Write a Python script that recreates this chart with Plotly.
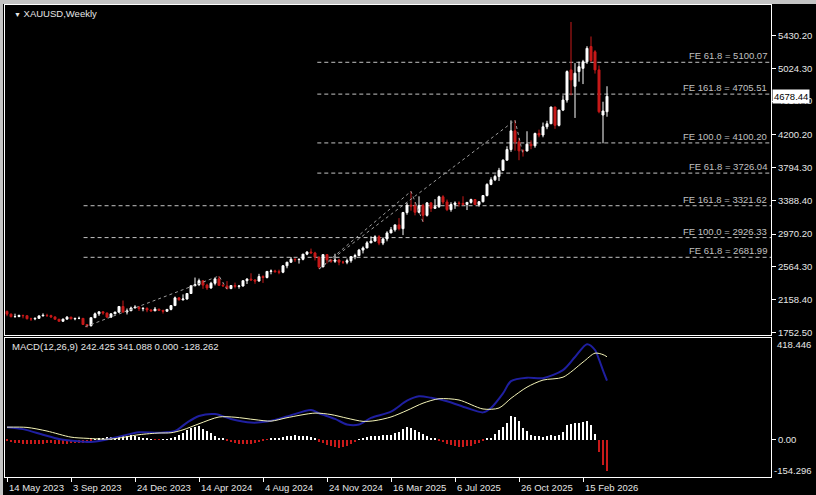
import plotly.graph_objects as go
import pandas as pd

# ---------------- data ----------------
chart_title = "XAUUSD,Weekly"
first_week = "2023-05-14"

opens = [
    2011, 1977, 1946, 1948, 1961, 1958, 1921, 1919, 1925, 1955,
    1962, 1959, 1943, 1914, 1889, 1915, 1940, 1919, 1924, 1925,
    1849, 1833, 1933, 1981, 2006, 1992, 1940, 1981, 2002, 2072,
    2004, 2019, 2053, 2063, 2045, 2049, 2029, 2018, 2039, 2024,
    2013, 2036, 2083, 2179, 2155, 2165, 2233, 2329, 2344, 2392,
    2337, 2302, 2360, 2415, 2334, 2327, 2294, 2332, 2321, 2326,
    2392, 2411, 2400, 2387, 2443, 2431, 2507, 2512, 2503, 2497,
    2577, 2621, 2658, 2653, 2657, 2721, 2747, 2736, 2685, 2563,
    2715, 2650, 2633, 2648, 2622, 2621, 2640, 2690, 2703, 2771,
    2798, 2861, 2883, 2936, 2858, 2910, 2984, 3023, 3084, 3037,
    3237, 3327, 3319, 3240, 3325, 3202, 3357, 3289, 3310, 3432,
    3368, 3273, 3337, 3355, 3350, 3337, 3363, 3398, 3336, 3371,
    3448, 3586, 3643, 3685, 3760, 3886, 4018, 4250, 4113, 4002,
    4000, 4085, 4065, 4218, 4198, 4300, 4338, 4545, 4318, 4507,
    4632, 5006, 4802, 4985, 5025, 5107, 5296, 5230, 5006, 4446,
    4487]

highs = [
    2022, 1985, 1983, 1971, 1971, 1959, 1933, 1935, 1963, 1987,
    1982, 1970, 1948, 1917, 1922, 1953, 1943, 1933, 1947, 1926,
    1853, 1933, 1997, 2009, 2010, 1993, 1988, 2007, 2075, 2146,
    2047, 2070, 2088, 2078, 2062, 2062, 2038, 2065, 2044, 2031,
    2041, 2088, 2195, 2185, 2222, 2236, 2330, 2431, 2418, 2392,
    2354, 2378, 2422, 2450, 2364, 2387, 2336, 2368, 2339, 2392,
    2424, 2484, 2412, 2477, 2459, 2509, 2531, 2528, 2529, 2586,
    2626, 2685, 2670, 2664, 2722, 2758, 2790, 2750, 2688, 2721,
    2722, 2657, 2726, 2664, 2639, 2665, 2697, 2726, 2786, 2817,
    2882, 2942, 2955, 2956, 2930, 3005, 3057, 3087, 3168, 3245,
    3358, 3500, 3367, 3438, 3345, 3366, 3365, 3403, 3446, 3452,
    3398, 3365, 3375, 3377, 3439, 3363, 3409, 3404, 3379, 3453,
    3600, 3674, 3707, 3791, 3897, 4059, 4379, 4381, 4161, 4020,
    4245, 4132, 4227, 4265, 4353, 4375, 4550, 4550, 4510, 4690,
    5000, 5600, 5090, 5108, 5130, 5300, 5420, 5250, 5060, 4611,
    4803]

lows = [
    1952, 1937, 1932, 1938, 1925, 1910, 1893, 1902, 1921, 1951,
    1942, 1929, 1911, 1885, 1884, 1913, 1913, 1901, 1914, 1846,
    1810, 1825, 1930, 1955, 1969, 1932, 1932, 1978, 1994, 1992,
    1973, 2016, 2053, 2016, 2013, 2001, 2009, 2016, 2015, 1984,
    2009, 2024, 2083, 2146, 2146, 2157, 2228, 2324, 2325, 2291,
    2277, 2291, 2334, 2326, 2322, 2286, 2287, 2296, 2293, 2319,
    2351, 2398, 2353, 2382, 2364, 2420, 2471, 2494, 2472, 2485,
    2546, 2614, 2625, 2604, 2644, 2708, 2730, 2643, 2537, 2560,
    2605, 2613, 2613, 2583, 2599, 2596, 2615, 2657, 2697, 2730,
    2795, 2860, 2877, 2832, 2833, 2880, 2982, 3000, 3015, 2957,
    3210, 3260, 3202, 3228, 3121, 3187, 3245, 3281, 3293, 3340,
    3255, 3247, 3283, 3310, 3324, 3268, 3347, 3331, 3311, 3362,
    3436, 3576, 3627, 3629, 3757, 3884, 3990, 4004, 3886, 3931,
    3997, 4022, 4040, 4170, 4170, 4270, 4335, 4275, 4305, 4495,
    4600, 4690, 4410, 4860, 4830, 5080, 5100, 4960, 4468, 4096,
    4425]

closes = [
    1977, 1946, 1948, 1961, 1958, 1921, 1919, 1925, 1955, 1962,
    1959, 1943, 1914, 1889, 1915, 1940, 1919, 1924, 1925, 1849,
    1833, 1933, 1981, 2006, 1992, 1940, 1981, 2002, 2072, 2004,
    2019, 2053, 2063, 2045, 2049, 2029, 2018, 2039, 2024, 2013,
    2036, 2083, 2179, 2155, 2165, 2233, 2329, 2344, 2392, 2337,
    2302, 2360, 2415, 2334, 2327, 2294, 2332, 2321, 2326, 2392,
    2411, 2400, 2387, 2443, 2431, 2507, 2512, 2503, 2497, 2577,
    2621, 2658, 2653, 2657, 2721, 2747, 2736, 2685, 2563, 2715,
    2650, 2633, 2648, 2622, 2621, 2640, 2690, 2703, 2771, 2798,
    2861, 2883, 2936, 2858, 2910, 2984, 3023, 3084, 3037, 3237,
    3327, 3319, 3240, 3325, 3202, 3357, 3289, 3310, 3432, 3368,
    3273, 3337, 3355, 3350, 3337, 3363, 3398, 3336, 3371, 3448,
    3586, 3643, 3685, 3760, 3886, 4018, 4250, 4113, 4002, 4000,
    4085, 4065, 4218, 4198, 4300, 4338, 4545, 4318, 4507, 4632,
    4985, 4882, 4965, 5045, 5107, 5273, 5122, 5006, 4487, 4496,
    4678.44]

last_price = 4678.44

# MACD histogram (one value per week)
macd_hist = [
    -5, -10, -14, -16, -18, -20, -20, -20, -18, -17, -16, -16, -17, -18, -18, -17, -16, -15, -14, -16, -15, -8,
    2, 5, 8, 9, 10, 12, 15, 17, 16, 17, 16, 12, 8, 4, 2, -1, -1, 1, 2,
    6, 12, 20, 28, 38, 48, 52, 55, 45, 35, 25, 15, 8, 3,
    -5, -10, -15, -18, -20, -20, -18, -15, -10, -5, -1,
    3, 6, 8, 12, 15, 16, 17, 16, 15, 14, 10, 4,
    -8, -15, -22, -28, -32, -33, -30, -25, -18, -10,
    2, 5, 12, 15, 14, 15, 17, 18, 20, 25, 33, 45, 52, 48, 40, 32, 22, 15, 8, 3,
    -2, -10, -18, -24, -28, -30, -30, -28, -25, -20, -14, -6,
    3, 7, 23, 39, 53, 69, 97, 91, 78, 47, 34, 20, 13, 13,
    12, 14, 17, 14, 17, 30, 58, 64, 67, 67, 71, 78, 60, 23, -50, -105, -128.262]

# MACD main line (blue) read at these week indices
macd_main_idx = [0, 4, 9, 13, 17, 21, 24, 28, 33, 38, 42, 45, 48, 52, 56, 61, 65, 70, 76,
                 78, 82, 85, 88, 91, 96, 100, 103, 106, 110, 115, 119, 121, 124, 126, 130,
                 134, 139, 142, 145, 147, 148, 149, 150]
macd_main_val = [51, 43, 20, 2, -6, -10, -3, 12, 30, 28, 35, 70, 97, 105, 85, 70, 74, 95, 122,
                 108, 85, 62, 62, 89, 115, 160, 178, 172, 158, 130, 112, 130, 190, 241, 255,
                 253, 286, 340, 393, 369, 330, 285, 242.425]

# MACD signal line (yellow) read at these week indices
macd_sig_idx = [0, 5, 10, 16, 20, 26, 33, 38, 41, 44, 48, 53, 57, 62, 66, 70, 77, 81, 85, 89,
                92, 96, 100, 104, 108, 113, 119, 123, 126, 130, 134, 139, 144, 147, 149, 150]
macd_sig_val = [51, 50, 35, 10, 5, 2, 20, 27, 28, 40, 65, 93, 92, 82, 76, 90, 109, 103, 88, 75,
                78, 93, 120, 150, 168, 163, 126, 130, 170, 216, 245, 257, 319, 356, 350, 341.088]

macd_label = "MACD(12,26,9) 242.425 341.088 0.000 -128.262"
macd_top_label, macd_zero_label, macd_bottom_label = "418.446", "0.00", "-154.296"
macd_range = [-154.296, 418.446]

price_ticks = [5430.20, 5024.30, 4618.40, 4200.20, 3794.30, 3388.40, 2970.20, 2564.30, 2158.40, 1752.50]
time_tick_labels = ["14 May 2023", "3 Sep 2023", "24 Dec 2023", "14 Apr 2024", "4 Aug 2024",
                    "24 Nov 2024", "16 Mar 2025", "6 Jul 2025", "26 Oct 2025", "15 Feb 2026"]

# Fibonacci expansion levels
fe_labels = ["FE 61.8 = 5100.07", "FE 161.8 = 4705.51", "FE 100.0 = 4100.20", "FE 61.8 = 3726.04",
             "FE 161.8 = 3321.62", "FE 100.0 = 2926.33", "FE 61.8 = 2681.99"]
fe_values = [5100.07, 4705.51, 4100.20, 3726.04, 3321.62, 2926.33, 2681.99]
fe_starts = ["2024-11-07", "2024-11-07", "2024-11-07", "2024-11-07",
             "2023-09-25", "2023-09-25", "2023-09-25"]
# Fibonacci expansion anchor points (A, B, C)
fe1_dates = ["2023-09-28", "2024-05-19", "2024-06-02"]
fe1_prices = [1821, 2450.1, 2286.7]
fe2_dates = ["2024-11-10", "2025-04-20", "2025-05-11"]
fe2_prices = [2536.7, 3500.1, 3120.7]
fe3_dates = ["2024-11-10", "2025-10-19", "2025-11-02"]
fe3_prices = [2536.7, 4381.0, 3960.3]

# ---------------- figure ----------------
dates = pd.date_range(first_week, periods=len(closes), freq="7D")
week = pd.Timedelta(days=7)
x_start = dates[0] - 0.5 * week
x_end = dates[0] + 191 * week
tick_dates = [pd.to_datetime(t, format="%d %b %Y") for t in time_tick_labels]

FONT = "Liberation Sans, Arial, sans-serif"
TXT = "#e6e6e6"
BEAR = "#c81a1a"

fig = go.Figure()

fig.add_trace(go.Candlestick(
    x=dates, open=opens, high=highs, low=lows, close=closes,
    increasing=dict(line=dict(color="white", width=1), fillcolor="white"),
    decreasing=dict(line=dict(color=BEAR, width=1), fillcolor=BEAR),
    whiskerwidth=0, showlegend=False, hoverinfo="skip",
    xaxis="x", yaxis="y"))

for dx, py in [(fe1_dates, fe1_prices), (fe2_dates, fe2_prices), (fe3_dates, fe3_prices)]:
    fig.add_trace(go.Scatter(
        x=pd.to_datetime(dx), y=py, mode="lines",
        line=dict(color="#9c9c9c", width=1, dash="3px,3px"),
        showlegend=False, hoverinfo="skip", xaxis="x", yaxis="y"))

hist_colors = ["white" if v >= 0 else BEAR for v in macd_hist]
fig.add_trace(go.Bar(
    x=dates, y=macd_hist, marker=dict(color=hist_colors, line=dict(width=0)),
    width=1.9 * 24 * 3600 * 1000, showlegend=False, hoverinfo="skip",
    xaxis="x2", yaxis="y2"))

fig.add_trace(go.Scatter(
    x=[dates[i] for i in macd_main_idx], y=macd_main_val, mode="lines",
    line=dict(color="#1f1fa0", width=2, shape="spline", smoothing=0.8),
    showlegend=False, hoverinfo="skip", xaxis="x2", yaxis="y2"))
fig.add_trace(go.Scatter(
    x=[dates[i] for i in macd_sig_idx], y=macd_sig_val, mode="lines",
    line=dict(color="#f4f4b8", width=1, shape="spline", smoothing=0.8),
    showlegend=False, hoverinfo="skip", xaxis="x2", yaxis="y2"))

shapes = []
for v, s in zip(fe_values, fe_starts):
    shapes.append(dict(type="line", xref="x", yref="y", x0=pd.to_datetime(s), x1=x_end,
                       y0=v, y1=v, line=dict(color="#c4c4c4", width=1, dash="4px,3px"),
                       layer="below"))

annotations = []
for lab, v in zip(fe_labels, fe_values):
    annotations.append(dict(text=lab, x=1, xref="paper", y=v, yref="y", xanchor="right",
                            yanchor="bottom", xshift=-2, yshift=-1, showarrow=False,
                            font=dict(family=FONT, size=9.5, color="#c0c0c0")))
annotations.append(dict(text=f"{last_price:.2f}", x=1, xref="paper", y=last_price, yref="y",
                        xanchor="left", yanchor="middle", xshift=1, showarrow=False,
                        bgcolor="white", borderpad=1,
                        font=dict(family=FONT, size=9.5, color="black")))
for lab, td in zip(time_tick_labels, tick_dates):
    annotations.append(dict(text=lab, x=td, xref="x2", y=0, yref="paper", xanchor="left",
                            yanchor="top", yshift=-3, showarrow=False,
                            font=dict(family=FONT, size=9.5, color=TXT)))
annotations.append(dict(text="<span style='font-size:7px'>▼</span> " + chart_title,
                        x=7 / 766, xref="paper", y=463 / 472, yref="paper",
                        xanchor="left", yanchor="middle", showarrow=False,
                        font=dict(family=FONT, size=9.5, color=TXT)))
annotations.append(dict(text=macd_label, x=5 / 766, xref="paper", y=131 / 472, yref="paper",
                        xanchor="left", yanchor="middle", showarrow=False,
                        font=dict(family=FONT, size=9.5, color=TXT)))
annotations.append(dict(text=macd_top_label, x=1, xref="paper", y=132.5 / 472, yref="paper",
                        xanchor="left", yanchor="middle", xshift=4, showarrow=False,
                        font=dict(family=FONT, size=9.5, color=TXT)))
annotations.append(dict(text=macd_bottom_label, x=1, xref="paper", y=6.5 / 472, yref="paper",
                        xanchor="left", yanchor="middle", xshift=1, showarrow=False,
                        font=dict(family=FONT, size=9.5, color=TXT)))

axis_common = dict(showgrid=False, zeroline=False, showline=True, mirror=True,
                   linecolor="white", linewidth=1)

# page has a 4px grey strip on top and 3px on the left (window frame), figure fills the rest
fig.update_layout(
    width=813, height=491,
    margin=dict(l=2, r=45, t=1, b=18),
    paper_bgcolor="black", plot_bgcolor="black",
    bargap=0,
    xaxis=dict(domain=[0, 1], anchor="y", type="date", range=[x_start, x_end],
               showticklabels=False, ticks="", rangeslider=dict(visible=False), **axis_common),
    yaxis=dict(domain=[142 / 472, 1], anchor="x", side="right", range=[1718.5, 5810.5],
               tickvals=price_ticks, ticktext=[f"{t:.2f}" for t in price_ticks],
               ticks="outside", ticklen=4, tickcolor="white",
               tickfont=dict(family=FONT, size=9.5, color=TXT), **axis_common),
    xaxis2=dict(domain=[0, 1], anchor="y2", type="date", range=[x_start, x_end], matches="x",
                tickvals=tick_dates, showticklabels=False, ticks="outside", ticklen=4,
                tickcolor="white", **axis_common),
    yaxis2=dict(domain=[0, 139 / 472], anchor="x2", side="right", range=macd_range,
                tickvals=[0], ticktext=[macd_zero_label], ticks="outside", ticklen=4,
                tickcolor="white", tickfont=dict(family=FONT, size=9.5, color=TXT), **axis_common),
    annotations=annotations, shapes=shapes,
    font=dict(family=FONT, size=9.5, color=TXT),
)

fig.write_html("out.html", config={"displayModeBar": False})

# page styling: no browser margin, grey window-frame strips at top and left
with open("out.html", "r", encoding="utf-8") as f:
    html = f.read()
html = html.replace(
    "<body>",
    '<body style="margin:0;padding:0;background:black;overflow:hidden;'
    'border-top:4px solid #c3c3c3;border-left:3px solid #c3c3c3">', 1)
with open("out.html", "w", encoding="utf-8") as f:
    f.write(html)
